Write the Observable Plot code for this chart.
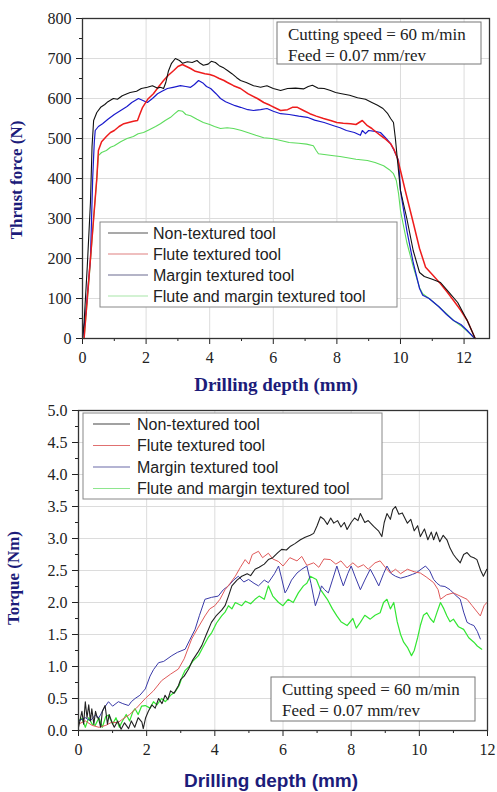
<!DOCTYPE html>
<html><head><meta charset="utf-8">
<script src="https://cdn.jsdelivr.net/npm/d3@7"></script>
<script src="https://cdn.jsdelivr.net/npm/@observablehq/plot@0.6"></script>
<style>body{margin:0;background:#fff} svg{display:block}</style>
</head><body><div id="c"></div>
<script>
// ---------- DATA ----------
const seriesNames = ["Non-textured tool", "Flute textured tool", "Margin textured tool", "Flute and margin textured tool"];
const conditionLines = ["Cutting speed = 60 m/min", "Feed = 0.07 mm/rev"];

const thrustXTicks = [0, 2, 4, 6, 8, 10, 12];
const thrustXMinor = [1, 3, 5, 7, 9, 11];
const thrustYTicks = [0, 100, 200, 300, 400, 500, 600, 700, 800];
const thrustYMinor = [50, 150, 250, 350, 450, 550, 650, 750];

const torqueXTicks = [0, 2, 4, 6, 8, 10, 12];
const torqueXMinor = [1, 3, 5, 7, 9, 11];
const torqueYTicks = [0, 0.5, 1, 1.5, 2, 2.5, 3, 3.5, 4, 4.5, 5];
const torqueYMinor = [0.25, 0.75, 1.25, 1.75, 2.25, 2.75, 3.25, 3.75, 4.25, 4.75];

// Thrust force (N) vs drilling depth (mm)
const thrustNonTextured = [[0,0],[0.05,40],[0.15,180],[0.25,340],[0.3,480],[0.35,545],[0.45,565],[0.57,578],[0.7,585],[0.8,592],[0.97,600],[1.1,598],[1.25,607],[1.4,612],[1.5,615],[1.7,618],[1.85,625],[2.04,628],[2.2,632],[2.35,626],[2.45,628],[2.55,625],[2.62,640],[2.7,668],[2.8,688],[2.92,700],[3.05,695],[3.15,688],[3.3,692],[3.45,690],[3.6,695],[3.7,688],[3.8,683],[3.95,686],[4.05,693],[4.18,690],[4.3,682],[4.45,676],[4.56,670],[4.7,662],[4.85,652],[4.97,645],[5.15,640],[5.38,632],[5.6,628],[5.8,632],[6.0,625],[6.23,620],[6.45,625],[6.7,626],[6.95,624],[7.1,630],[7.23,633],[7.4,626],[7.6,625],[7.8,620],[7.96,615],[8.15,612],[8.4,608],[8.65,602],[8.9,598],[9.1,590],[9.28,583],[9.45,575],[9.6,562],[9.69,550],[9.78,540],[9.84,500],[9.9,450],[10.0,370],[10.2,300],[10.4,220],[10.6,165],[10.75,155],[11.0,148],[11.26,140],[11.5,118],[11.8,90],[12.1,45],[12.35,0]];
const thrustFlute = [[0.05,0],[0.2,150],[0.35,300],[0.45,400],[0.5,470],[0.6,492],[0.75,505],[0.88,515],[1.0,520],[1.15,530],[1.3,537],[1.45,540],[1.6,543],[1.73,545],[1.8,560],[1.89,578],[2.05,598],[2.23,612],[2.4,630],[2.55,645],[2.7,658],[2.87,670],[3.0,680],[3.14,685],[3.27,680],[3.4,675],[3.55,668],[3.7,665],[3.85,662],[4.0,660],[4.12,657],[4.3,650],[4.45,645],[4.56,640],[4.75,632],[4.97,625],[5.2,612],[5.5,600],[5.7,590],[5.9,583],[6.1,575],[6.23,570],[6.45,572],[6.6,578],[6.76,578],[6.95,570],[7.15,562],[7.35,556],[7.58,550],[7.8,545],[8.0,540],[8.2,538],[8.43,537],[8.6,535],[8.8,545],[8.96,532],[9.1,525],[9.25,515],[9.37,508],[9.55,497],[9.69,487],[9.8,472],[9.9,452],[10.0,420],[10.15,370],[10.41,287],[10.6,225],[10.79,178],[11.0,160],[11.26,137],[11.45,118],[11.67,95],[11.9,70],[12.1,45],[12.35,0]];
const thrustMargin = [[0,0],[0.1,60],[0.25,200],[0.32,400],[0.37,490],[0.4,520],[0.5,530],[0.63,537],[0.8,548],[1.0,560],[1.2,570],[1.4,580],[1.55,590],[1.76,600],[1.9,595],[2.04,590],[2.2,600],[2.36,612],[2.5,618],[2.67,625],[2.85,628],[3.08,632],[3.25,630],[3.4,628],[3.52,635],[3.65,645],[3.8,638],[3.9,630],[4.03,625],[4.2,612],[4.34,600],[4.5,592],[4.65,587],[4.8,582],[4.97,578],[5.2,572],[5.38,570],[5.6,572],[5.8,575],[6.0,568],[6.23,562],[6.5,560],[6.8,556],[7.07,553],[7.3,546],[7.6,540],[7.9,532],[8.1,527],[8.3,520],[8.55,515],[8.74,508],[8.8,520],[8.9,512],[9.0,520],[9.2,518],[9.37,515],[9.55,500],[9.69,487],[9.8,470],[9.94,445],[10.0,370],[10.2,270],[10.4,190],[10.6,125],[10.7,108],[10.9,100],[11.2,80],[11.45,60],[11.67,45],[11.9,35],[12.1,20],[12.3,3]];
const thrustFluteMargin = [[0.05,0],[0.2,140],[0.35,300],[0.45,400],[0.5,457],[0.6,465],[0.75,470],[0.88,478],[1.0,482],[1.2,492],[1.4,500],[1.6,505],[1.75,512],[1.92,515],[2.1,522],[2.3,530],[2.45,537],[2.6,545],[2.77,553],[2.9,562],[3.02,570],[3.15,568],[3.25,560],[3.4,557],[3.6,548],[3.8,540],[4.0,535],[4.15,530],[4.34,525],[4.55,527],[4.75,525],[5.0,520],[5.19,515],[5.45,508],[5.7,502],[5.95,500],[6.23,495],[6.5,490],[6.8,488],[7.05,486],[7.26,482],[7.35,470],[7.42,462],[7.6,460],[7.9,457],[8.1,455],[8.33,452],[8.6,448],[8.96,445],[9.2,440],[9.47,432],[9.65,422],[9.78,412],[9.87,395],[9.94,362],[10.0,320],[10.2,240],[10.4,180],[10.6,127],[10.7,112],[10.9,100],[11.2,80],[11.45,62],[11.67,45],[11.9,32],[12.1,18],[12.35,0]];

// Torque (Nm) vs drilling depth (mm)
const torqueNonTextured = [[0,0.05],[0.1,0.3],[0.15,0.1],[0.2,0.45],[0.25,0.2],[0.3,0.4],[0.35,0.15],[0.39,0.34],[0.45,0.1],[0.5,0.3],[0.55,0.2],[0.59,0.19],[0.65,0.05],[0.7,0.3],[0.78,0.39],[0.85,0.1],[0.9,0.25],[0.98,0.13],[1.05,0.05],[1.15,0.15],[1.25,0.02],[1.35,0.12],[1.47,0.03],[1.55,0.15],[1.65,0.05],[1.75,0.2],[1.86,0.13],[1.9,0.03],[1.97,0.2],[2.05,0.3],[2.15,0.4],[2.25,0.35],[2.35,0.5],[2.45,0.42],[2.54,0.55],[2.62,0.48],[2.7,0.62],[2.8,0.58],[2.93,0.7],[3.0,0.8],[3.1,0.85],[3.23,0.96],[3.35,1.1],[3.5,1.22],[3.62,1.33],[3.75,1.5],[3.9,1.69],[4.05,1.8],[4.2,1.88],[4.3,1.95],[4.4,2.1],[4.5,2.26],[4.65,2.35],[4.79,2.41],[4.95,2.45],[5.05,2.42],[5.18,2.52],[5.3,2.55],[5.45,2.6],[5.57,2.67],[5.7,2.7],[5.85,2.78],[5.96,2.83],[6.1,2.82],[6.22,2.88],[6.35,2.92],[6.51,2.98],[6.65,3.02],[6.8,3.05],[6.9,3.08],[7.0,3.2],[7.1,3.34],[7.2,3.3],[7.3,3.22],[7.4,3.32],[7.49,3.24],[7.6,3.28],[7.7,3.18],[7.8,3.25],[7.88,3.14],[8.0,3.25],[8.1,3.32],[8.2,3.28],[8.27,3.39],[8.4,3.25],[8.5,3.28],[8.66,3.19],[8.8,3.12],[8.9,3.03],[8.97,3.25],[9.05,3.39],[9.15,3.3],[9.22,3.45],[9.3,3.5],[9.4,3.38],[9.5,3.4],[9.65,3.24],[9.75,3.3],[9.85,3.12],[9.95,3.2],[10.03,3.03],[10.15,3.15],[10.25,2.98],[10.35,3.1],[10.42,2.98],[10.5,3.1],[10.6,2.95],[10.7,3.05],[10.81,2.98],[10.9,2.85],[11.0,2.75],[11.1,2.68],[11.2,2.62],[11.3,2.75],[11.4,2.78],[11.5,2.72],[11.6,2.7],[11.69,2.67],[11.8,2.5],[11.88,2.41],[11.98,2.52]];
const torqueFlute = [[0,0.1],[0.2,0.15],[0.4,0.08],[0.6,0.05],[0.8,0.08],[0.98,0.13],[1.15,0.12],[1.3,0.18],[1.5,0.25],[1.7,0.35],[1.96,0.5],[2.2,0.62],[2.44,0.78],[2.7,0.88],[2.93,0.96],[3.1,1.12],[3.32,1.43],[3.5,1.6],[3.71,1.79],[3.85,1.9],[4.0,1.95],[4.15,2.05],[4.3,2.2],[4.45,2.3],[4.6,2.41],[4.75,2.55],[4.89,2.67],[5.0,2.6],[5.1,2.75],[5.28,2.8],[5.4,2.7],[5.57,2.77],[5.7,2.68],[5.87,2.64],[6.0,2.57],[6.2,2.7],[6.41,2.65],[6.55,2.72],[6.7,2.58],[6.9,2.62],[7.05,2.55],[7.2,2.68],[7.39,2.67],[7.55,2.6],[7.7,2.65],[7.88,2.54],[8.05,2.62],[8.2,2.55],[8.36,2.59],[8.5,2.52],[8.7,2.62],[8.85,2.65],[9.0,2.55],[9.15,2.46],[9.3,2.52],[9.45,2.45],[9.65,2.52],[9.85,2.48],[10.03,2.46],[10.2,2.4],[10.42,2.31],[10.55,2.2],[10.62,2.05],[10.8,2.12],[11.0,2.15],[11.2,2.1],[11.4,2.05],[11.55,1.95],[11.7,1.85],[11.79,1.79],[11.9,1.95],[11.98,2.0]];
const torqueMargin = [[0,0.15],[0.2,0.2],[0.35,0.15],[0.49,0.24],[0.6,0.2],[0.75,0.35],[0.88,0.45],[1.0,0.38],[1.17,0.45],[1.3,0.42],[1.47,0.39],[1.55,0.45],[1.66,0.5],[1.8,0.55],[1.96,0.65],[2.1,0.85],[2.2,0.95],[2.35,1.06],[2.5,1.08],[2.74,1.17],[2.9,1.22],[3.13,1.27],[3.25,1.4],[3.42,1.58],[3.55,1.8],[3.71,2.05],[3.9,2.08],[4.1,2.1],[4.25,2.2],[4.4,2.26],[4.55,2.35],[4.69,2.41],[4.85,2.32],[4.99,2.36],[5.15,2.3],[5.28,2.26],[5.45,2.35],[5.57,2.31],[5.75,2.45],[5.87,2.57],[5.95,2.4],[6.06,2.15],[6.12,2.2],[6.25,2.35],[6.41,2.46],[6.55,2.52],[6.7,2.57],[6.82,2.3],[6.95,1.95],[7.05,2.1],[7.13,2.26],[7.22,2.2],[7.33,2.15],[7.45,2.35],[7.58,2.57],[7.68,2.4],[7.77,2.26],[7.9,2.45],[8.0,2.57],[8.12,2.4],[8.27,2.2],[8.4,2.35],[8.56,2.52],[8.68,2.4],[8.81,2.26],[8.95,2.45],[9.05,2.57],[9.18,2.45],[9.3,2.41],[9.45,2.38],[9.65,2.41],[9.8,2.44],[9.9,2.46],[10.05,2.52],[10.18,2.57],[10.3,2.5],[10.42,2.36],[10.52,2.3],[10.62,2.26],[10.75,2.25],[10.9,2.2],[11.05,2.12],[11.2,2.05],[11.3,1.85],[11.4,1.69],[11.5,1.66],[11.6,1.64],[11.7,1.55],[11.79,1.43]];
const torqueFluteMargin = [[0,0.15],[0.1,0.19],[0.2,0.05],[0.3,0.2],[0.4,0.1],[0.49,0.08],[0.6,0.2],[0.7,0.05],[0.8,0.22],[0.88,0.24],[1.0,0.1],[1.1,0.2],[1.2,0.05],[1.27,0.13],[1.4,0.25],[1.5,0.15],[1.6,0.3],[1.66,0.34],[1.75,0.25],[1.85,0.38],[1.96,0.39],[2.1,0.35],[2.2,0.45],[2.3,0.4],[2.44,0.5],[2.55,0.45],[2.7,0.55],[2.83,0.6],[2.95,0.7],[3.05,0.85],[3.13,0.94],[3.25,1.0],[3.35,1.08],[3.52,1.17],[3.65,1.3],[3.8,1.45],[3.91,1.53],[4.05,1.68],[4.2,1.79],[4.3,1.85],[4.4,1.95],[4.5,1.9],[4.6,2.0],[4.79,1.95],[4.9,2.02],[5.05,1.98],[5.18,2.05],[5.3,2.1],[5.45,2.05],[5.57,2.26],[5.7,2.1],[5.87,2.0],[6.0,1.95],[6.15,2.05],[6.3,2.0],[6.45,2.15],[6.6,2.26],[6.7,2.3],[6.8,2.41],[6.98,2.36],[7.1,2.2],[7.3,2.05],[7.45,1.9],[7.58,1.79],[7.7,1.7],[7.88,1.64],[8.05,1.75],[8.15,1.6],[8.27,1.69],[8.4,1.8],[8.56,1.74],[8.7,1.8],[8.85,1.84],[8.95,2.0],[9.05,2.05],[9.15,1.9],[9.25,2.0],[9.35,1.7],[9.45,1.5],[9.54,1.38],[9.65,1.3],[9.77,1.17],[9.85,1.25],[9.95,1.45],[10.03,1.64],[10.12,1.8],[10.22,1.84],[10.32,1.75],[10.42,1.69],[10.52,1.85],[10.62,2.0],[10.72,1.9],[10.81,1.79],[10.9,1.7],[11.0,1.74],[11.15,1.62],[11.3,1.58],[11.45,1.45],[11.6,1.38],[11.7,1.32],[11.83,1.27]];

// ---------- STYLE ----------
const SERIF = "'Liberation Serif', 'Times New Roman', serif";
const SANS = "'Liberation Sans', Arial, sans-serif";
const NAVY = "#1c1c7a";
const topColors = ["#111111", "#ee1c1c", "#1a1acc", "#5ddc5d"];
const botColors = ["#222222", "#e05a5a", "#3a3aa8", "#33e633"];
const legendTop = ["#555555", "#e08080", "#6a6a90", "#a8e6a8"];

function buildChart(o) {
  const lines = o.series.map((s, i) => Plot.line(s, {x: d => d[0], y: d => d[1], stroke: o.colors[i], strokeWidth: o.sw[i]}));
  const drawOrder = o.order.map(i => lines[i]);
  const chart = Plot.plot({
    width: 497, height: o.height,
    marginTop: o.mt, marginBottom: o.mb, marginLeft: o.ml, marginRight: o.mr,
    x: {domain: o.xDomain},
    y: {domain: o.yDomain},
    style: {background: "#fff"},
    marks: [
      Plot.gridX(o.xTicks, {stroke: "#dcdcdc", strokeOpacity: 1, strokeWidth: 1}),
      Plot.gridY(o.yTicks, {stroke: "#dcdcdc", strokeOpacity: 1, strokeWidth: 1}),
      ...drawOrder,
      Plot.axisX(o.xMinor, {tickSize: 3, tickFormat: () => "", stroke: "#222", label: null}),
      Plot.axisY(o.yMinor, {tickSize: 3, tickFormat: () => "", stroke: "#222", label: null}),
      Plot.axisX(o.xTicks, {tickSize: 6, tickPadding: 7, fontSize: 16, fontFamily: SERIF, fill: "#222", stroke: "#222", label: null}),
      Plot.axisY(o.yTicks, {tickSize: 6, tickPadding: 5, fontSize: 16, fontFamily: SERIF, fill: "#222", stroke: "#222", label: null, tickFormat: o.yFormat}),
      Plot.frame({stroke: "#333", strokeWidth: 1.3})
    ]
  });
  const svg = d3.select(chart);
  // legend
  const L = o.legend;
  svg.append("rect").attr("x", L.x).attr("y", L.y).attr("width", L.w).attr("height", L.h)
    .attr("fill", "#fff").attr("stroke", "#888").attr("stroke-width", 1);
  seriesNames.forEach((name, i) => {
    const yy = L.y + L.first + i * L.step;
    svg.append("line").attr("x1", L.lx1).attr("x2", L.lx2).attr("y1", yy).attr("y2", yy)
      .attr("stroke", o.legendColors[i]).attr("stroke-width", 1.2);
    svg.append("text").attr("x", L.tx).attr("y", yy).attr("dy", "0.35em").attr("text-anchor", "start")
      .attr("font-family", SANS).attr("font-size", 16).attr("fill", "#222").text(name);
  });
  // condition box
  const A = o.note;
  svg.append("rect").attr("x", A.x).attr("y", A.y).attr("width", A.w).attr("height", A.h)
    .attr("fill", "#fff").attr("stroke", "#777").attr("stroke-width", 1);
  conditionLines.forEach((t, i) => {
    svg.append("text").attr("x", A.x + 11).attr("y", A.y + 12 + i * 21).attr("dy", "0.35em").attr("text-anchor", "start")
      .attr("font-family", SERIF).attr("font-size", 17).attr("fill", "#222").text(t);
  });
  // axis titles
  svg.append("text").attr("transform", `translate(${o.yLab.x},${o.yLab.y}) rotate(-90)`)
    .attr("text-anchor", "middle").attr("font-family", SERIF).attr("font-weight", "bold")
    .attr("font-size", o.yLab.size).attr("fill", NAVY).text(o.yLab.text);
  svg.append("text").attr("x", o.xLab.x).attr("y", o.xLab.y).attr("text-anchor", "middle")
    .attr("font-family", o.xLab.font).attr("font-weight", "bold")
    .attr("font-size", o.xLab.size).attr("fill", NAVY).text("Drilling depth (mm)");
  return chart;
}

const thrustChart = buildChart({
  height: 398, mt: 18, mb: 60, ml: 82, mr: 8,
  xDomain: [0, 12.8], yDomain: [0, 800],
  xTicks: thrustXTicks, xMinor: thrustXMinor, yTicks: thrustYTicks, yMinor: thrustYMinor,
  yFormat: d3.format("d"),
  series: [thrustNonTextured, thrustFlute, thrustMargin, thrustFluteMargin],
  colors: topColors, sw: [1.1, 1.5, 1.2, 1.1], order: [3, 2, 1, 0],
  legendColors: legendTop,
  legend: {x: 100, y: 222, w: 297, h: 85, first: 11, step: 21, lx1: 108, lx2: 148, tx: 153},
  note: {x: 277, y: 22, w: 204, h: 42},
  yLab: {x: 22, y: 180, size: 17, text: "Thrust force (N)"},
  xLab: {x: 276, y: 391, size: 19, font: SERIF}
});
const torqueChart = buildChart({
  height: 394, mt: 12, mb: 62, ml: 78, mr: 10,
  xDomain: [0, 12], yDomain: [0, 5],
  xTicks: torqueXTicks, xMinor: torqueXMinor, yTicks: torqueYTicks, yMinor: torqueYMinor,
  yFormat: d3.format(".1f"),
  series: [torqueNonTextured, torqueFlute, torqueMargin, torqueFluteMargin],
  colors: botColors, sw: [1.1, 1, 1, 1.2], order: [3, 2, 1, 0],
  legendColors: ["#444444", "#e07070", "#6a6aa8", "#8ee68e"],
  legend: {x: 83, y: 15, w: 299, h: 86, first: 11, step: 21.5, lx1: 93, lx2: 130, tx: 137},
  note: {x: 271, y: 279, w: 204, h: 44},
  yLab: {x: 19, y: 180, size: 17, text: "Torque (Nm)"},
  xLab: {x: 271, y: 389, size: 19, font: SANS}
});
document.getElementById("c").append(thrustChart, torqueChart);
</script>
</body></html>
